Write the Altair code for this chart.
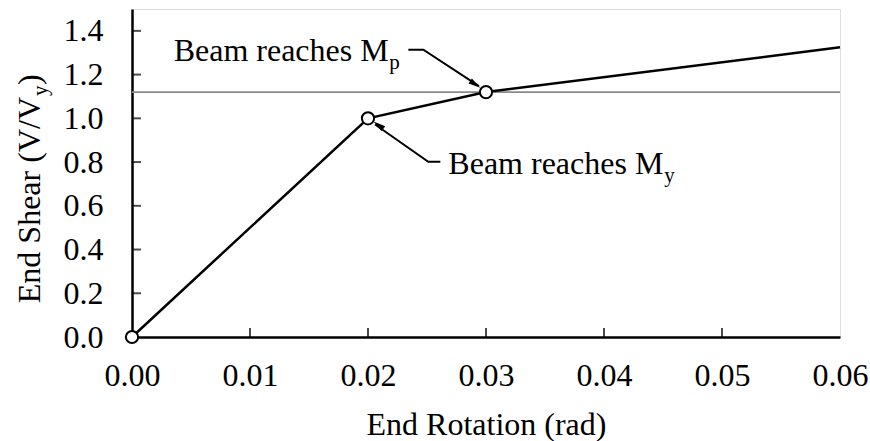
import altair as alt
import pandas as pd

# ---- data ----
rotation = [0.0, 0.02, 0.03, 0.06]
shear = [0.0, 1.0, 1.12, 1.325]
marker_rotation = [0.0, 0.02, 0.03]
marker_shear = [0.0, 1.0, 1.12]
mp_level = 1.12
x_tick_values = [0.0, 0.01, 0.02, 0.03, 0.04, 0.05, 0.06]
y_tick_values = [0.0, 0.2, 0.4, 0.6, 0.8, 1.0, 1.2, 1.4]
inner_x_ticks = [0.01, 0.02, 0.03, 0.04, 0.05]
inner_y_ticks = [0.2, 0.4, 0.6, 0.8, 1.0, 1.2, 1.4]

# annotations (data coordinates)
ann_main_text = ["Beam reaches M", "Beam reaches M"]
ann_sub_text = ["p", "y"]
ann_main_x = [0.02175, 0.04503]
ann_sub_x = [0.02181, 0.04511]
ann_y = [1.260, 0.7467]
leader_group = ["mp", "mp", "mp", "my", "my", "my"]
leader_order = [0, 1, 2, 0, 1, 2]
leader_x = [0.02342, 0.02469, 0.02940, 0.02613, 0.02511, 0.02060]
leader_y = [1.3139, 1.3139, 1.147, 0.8017, 0.8017, 0.972]
head_x = [0.02909, 0.02089]
head_y = [1.1552, 0.9686]
head_angle = [124, 306]

FONT = "'Liberation Serif', 'Times New Roman', Times, serif"
FS = 32
SUB = 21
W, H = 708, 328
ARROW = "M0,-1L0.5,1L-0.5,1Z"

xs = alt.Scale(domain=[0, 0.06], nice=False, zero=False)
ys = alt.Scale(domain=[0, 1.5], nice=False, zero=False)
x_axis = alt.Axis(values=x_tick_values, format=".2f", title="End Rotation (rad)",
                  ticks=False, tickSize=0, labelPadding=23, grid=False,
                  labelFlush=False, labelOverlap=False,
                  domainColor="black", domainWidth=2.5, labelFontSize=FS,
                  labelColor="black", labelFont=FONT, titleFont=FONT,
                  titleFontSize=FS, titleFontWeight="normal", titleColor="black",
                  titleBaseline="alphabetic", titleY=97, titleX=W / 2,
                  titleAnchor="middle", titleAlign="center")
y_axis = alt.Axis(values=y_tick_values, format=".1f", title=None,
                  ticks=False, tickSize=0, labelPadding=29, grid=False,
                  labelFlush=False, labelOverlap=False,
                  domainColor="black", domainWidth=2.5, labelFontSize=FS,
                  labelColor="black", labelFont=FONT)

X = alt.X("x:Q", scale=xs, axis=x_axis)
Y = alt.Y("y:Q", scale=ys, axis=y_axis)

line_df = pd.DataFrame({"x": rotation, "y": shear, "o": list(range(len(rotation)))})
mark_df = pd.DataFrame({"x": marker_rotation, "y": marker_shear})
mp_df = pd.DataFrame({"y": [mp_level]})
xt_df = pd.DataFrame({"x": inner_x_ticks})
yt_df = pd.DataFrame({"y": inner_y_ticks})
ann_df = pd.DataFrame({"x": ann_main_x, "xs": ann_sub_x, "y": ann_y,
                       "t": ann_main_text, "s": ann_sub_text})
lead_df = pd.DataFrame({"x": leader_x, "y": leader_y, "g": leader_group, "o": leader_order})
head_df = pd.DataFrame({"x": head_x, "y": head_y, "a": head_angle})
one = pd.DataFrame({"k": [0]})

mp_rule = alt.Chart(mp_df).mark_rule(color="#8a8a8a", strokeWidth=1.6).encode(y=Y)

curve = alt.Chart(line_df).mark_line(color="black", strokeWidth=2.5).encode(
    x=X, y=Y, order="o:Q")

markers = alt.Chart(mark_df).mark_point(
    shape="circle", filled=True, fill="white", stroke="black", strokeWidth=2,
    size=150, opacity=1).encode(x=X, y=Y)

xticks = alt.Chart(xt_df).mark_tick(color="black", thickness=2, size=9,
                                    orient="vertical").encode(x=X, y=alt.value(H - 4.5))
yticks = alt.Chart(yt_df).mark_tick(color="black", thickness=2, size=9,
                                    orient="horizontal").encode(y=Y, x=alt.value(4.5))

leaders = alt.Chart(lead_df).mark_line(color="black", strokeWidth=2).encode(
    x=X, y=Y, detail="g:N", order="o:Q")
heads = alt.Chart(head_df).mark_point(shape=ARROW, filled=True, color="black",
                                      size=150, opacity=1).encode(
    x=X, y=Y, angle=alt.Angle("a:Q", scale=None))

ann_main = alt.Chart(ann_df).mark_text(align="right", baseline="alphabetic",
                                       font=FONT, fontSize=FS, color="black").encode(
    x=X, y=Y, text="t:N")
ann_sub = alt.Chart(ann_df).mark_text(align="left", baseline="alphabetic", dy=8,
                                      font=FONT, fontSize=SUB, color="black").encode(
    x=alt.X("xs:Q", scale=xs), y=Y, text="s:N")

yt1 = alt.Chart(one).mark_text(text="End Shear (V/V", angle=270, align="right",
                               baseline="alphabetic", font=FONT, fontSize=FS,
                               color="black").encode(x=alt.value(-92), y=alt.value(88))
yt2 = alt.Chart(one).mark_text(text="y", angle=270, align="left", dy=7,
                               baseline="alphabetic", font=FONT, fontSize=SUB,
                               color="black").encode(x=alt.value(-92), y=alt.value(87))
yt3 = alt.Chart(one).mark_text(text=")", angle=270, align="left",
                               baseline="alphabetic", font=FONT, fontSize=FS,
                               color="black").encode(x=alt.value(-92), y=alt.value(76))

chart = alt.layer(
    mp_rule, curve, xticks, yticks, leaders, heads, markers,
    ann_main, ann_sub, yt1, yt2, yt3
).properties(
    width=W, height=H,
    autosize=alt.AutoSizeParams(type="none"),
    padding={"left": 132, "top": 9, "right": 30, "bottom": 104},
    background="white",
).configure_view(
    stroke="black", strokeWidth=1.5
).configure(font=FONT)

chart.save("out.html", embed_options={"renderer": "svg", "actions": False})
